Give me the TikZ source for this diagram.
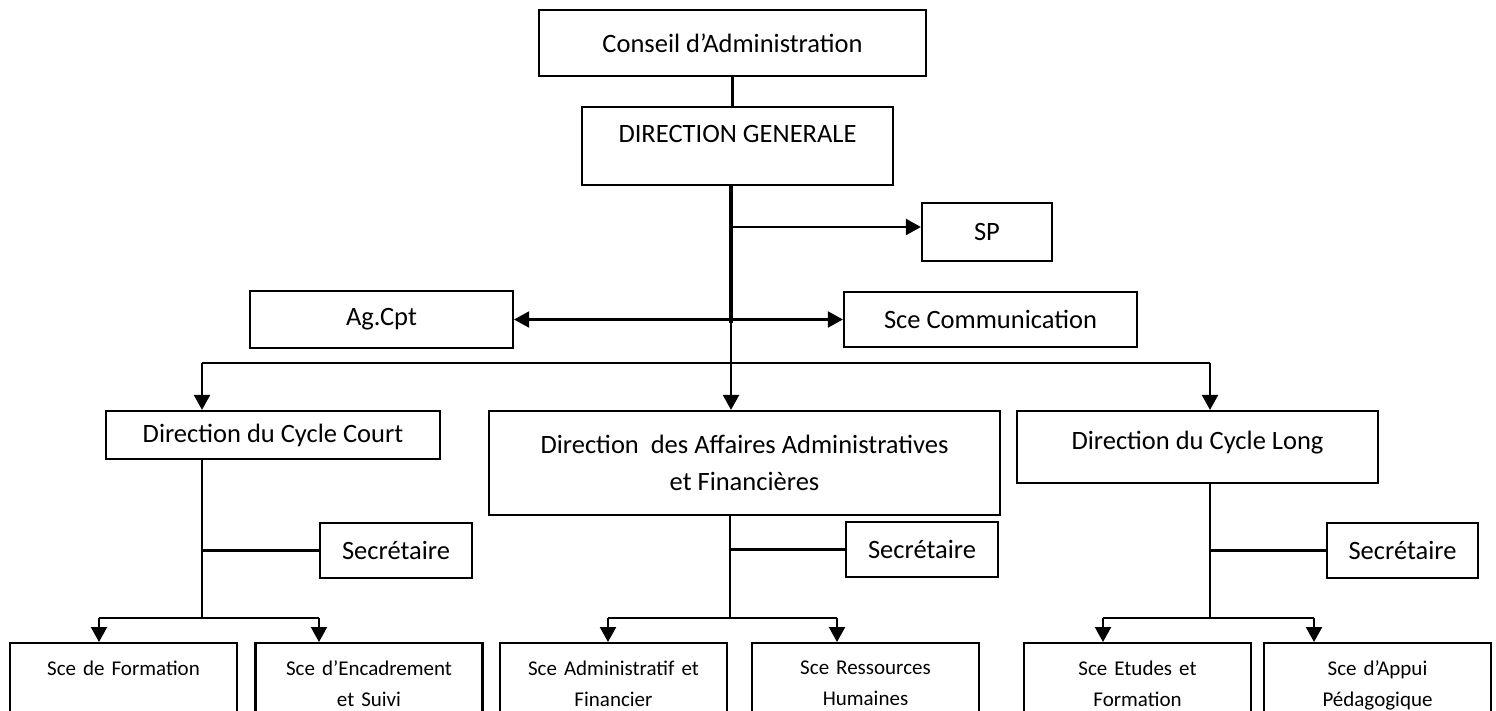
\documentclass[tikz,border=0pt]{standalone}
\usepackage{fontspec}
\setmainfont{Carlito}
\usetikzlibrary{positioning,arrows.meta,calc}

\begin{document}
\begin{tikzpicture}[
x=1pt,y=-1pt,
box/.style={
  draw,
  line width=2.2pt,
  inner sep=0pt,
  font=\fontsize{26.5}{37}\selectfont},
sce/.style={
  draw,
  line width=2.2pt,
  anchor=north,
  minimum width=227pt,
  text width=215pt,
  align=center,
  inner ysep=18pt,
  font=\fontsize{21}{31}\selectfont},
arr/.style={-{Triangle[width=16pt,length=15pt]}},
link/.style={line width=2.2pt}
]
\useasboundingbox (0,0) rectangle (1496,711);
\clip (0,0) rectangle (1496,711);
% top of the chart
\node[box,minimum width=387pt,minimum height=66pt] (conseil) at (732.5,43) {Conseil d'Administration};
\node[box,minimum width=311pt,minimum height=78pt,text depth=25pt] (dg) at (737.5,146) {DIRECTION GENERALE};
\node[box,minimum width=130pt,minimum height=58pt] (sp) at (987,232) {SP};
\node[box,minimum width=263pt,minimum height=57pt] (agcpt) at (381.5,319.5) {Ag.Cpt};
\node[box,minimum width=293pt,minimum height=55pt] (com) at (990.5,319.5) {Sce Communication};
% directions
\node[box,minimum width=334pt,minimum height=48pt,text depth=3pt] (dcc) at (273,435) {Direction du Cycle Court};
\node[box,minimum width=511pt,minimum height=104pt,align=center] (daaf) at (744.5,463)
  {Direction\ \ des Affaires Administratives\\ et Financi\`eres};
\node[box,minimum width=361pt,minimum height=72pt,text depth=14pt] (dcl) at (1197.5,447) {Direction du Cycle Long};
\node[box,minimum width=152pt,minimum height=55pt] (sec1) at (396,550.5) {Secr\'etaire};
\node[box,minimum width=152pt,minimum height=55pt] (sec2) at (922,549.5) {Secr\'etaire};
\node[box,minimum width=151pt,minimum height=55pt] (sec3) at (1402.5,550.5) {Secr\'etaire};
% services
\node[sce] (sf) at (123.5,642) {Sce de Formation\\ \mbox{}};
\node[sce] (se) at (369,642) {Sce d'Encadrement\\ et Suivi};
\node[sce] (sa) at (613.5,642) {Sce Administratif et\\ Financier};
\node[sce] (srh) at (865.5,642) {Sce Ressources\\ Humaines};
\node[sce] (sef) at (1137.5,642) {Sce Etudes et\\ Formation};
\node[sce] (sap) at (1377.5,642) {Sce d'Appui\\ P\'edagogique};

\coordinate (trk) at (731,185);
\coordinate (spj) at (731,227);
\coordinate (agj) at (731,323);
\coordinate (busL) at (202,363);
\coordinate (busR) at (1210,363);

\draw[link] (conseil.south) -- (conseil.south |- dg.north);
\draw[line width=4.4pt] (trk) -- (agj);
\draw[link,arr] (spj) -- (spj -| sp.west);
\draw[link,{Triangle[width=16pt,length=15pt]}-{Triangle[width=16pt,length=15pt]}] (agcpt.east) -- (com.west);
\draw[link,arr] (agj) -- (agj |- daaf.north);
\draw[link] (busL) -- (busR);
\draw[link,arr] (busL) -- (busL |- dcc.north);
\draw[link,arr] (busR) -- (busR |- dcl.north);

\foreach \Dir/\Sec/\Lft/\Rgt/\x/\xa/\xb in {dcc/sec1/sf/se/202/99/319,
  daaf/sec2/sa/srh/730/608/837, dcl/sec3/sef/sap/1210/1103/1314} {
  \coordinate (\Dir-t) at (\x,618);
  \coordinate (\Dir-a) at (\xa,618);
  \coordinate (\Dir-b) at (\xb,618);
  \draw[link] (\Dir-t |- \Dir.south) -- (\Dir-t);
  \draw[link] (\Dir-t |- \Sec.west) -- (\Sec.west);
  \draw[link] (\Dir-a) -- (\Dir-b);
  \draw[link,arr] (\Dir-a) -- (\Dir-a |- \Lft.north);
  \draw[link,arr] (\Dir-b) -- (\Dir-b |- \Rgt.north);
}
\end{tikzpicture}
\end{document}
